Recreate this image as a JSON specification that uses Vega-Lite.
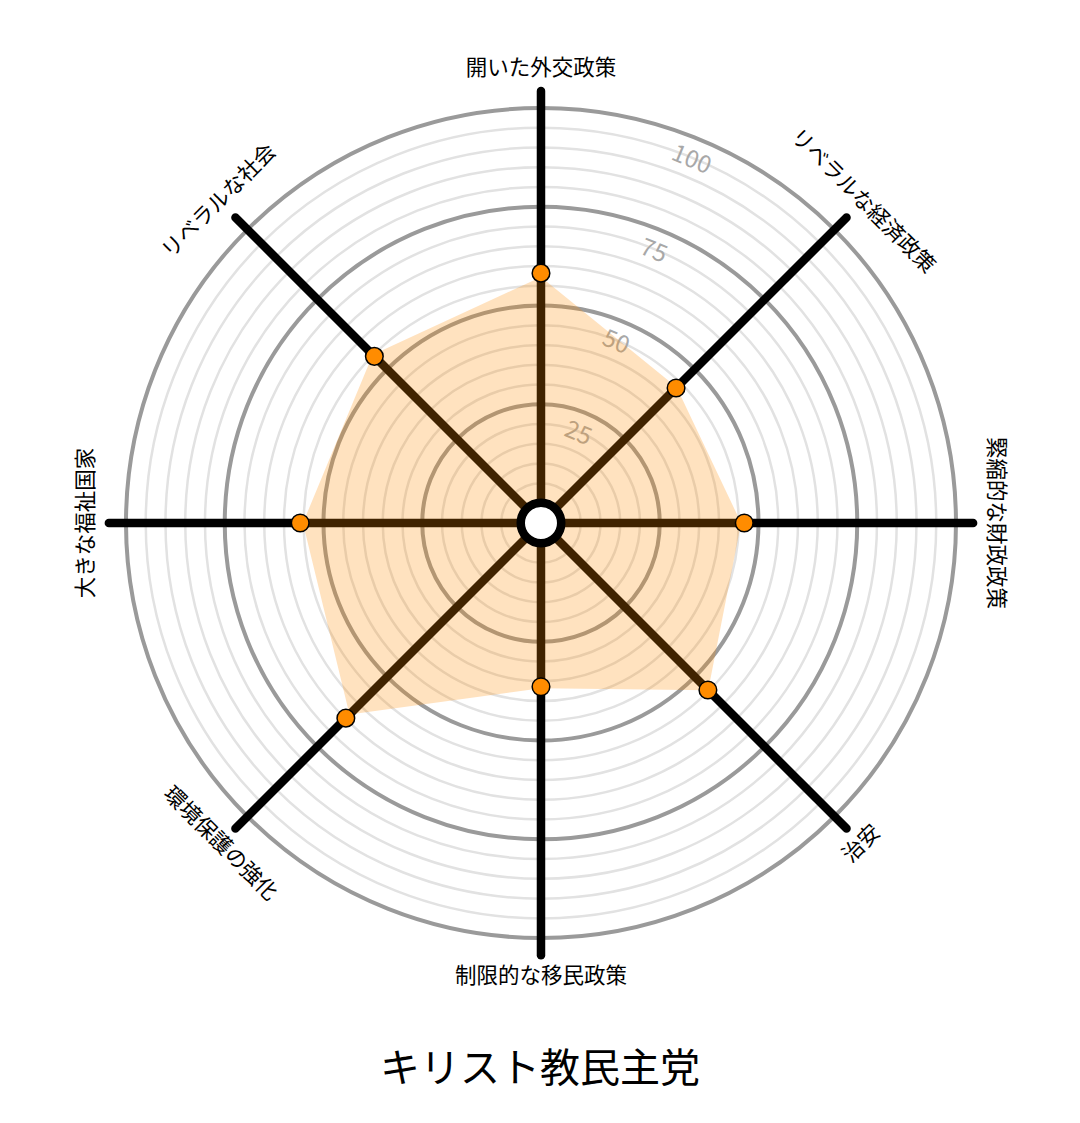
{
  "$schema": "https://vega.github.io/schema/vega-lite/v6.json",
  "description": "Radar chart of one party's policy positions on eight dimensions.",
  "width": 1080,
  "height": 1010,
  "autosize": {"type": "none"},
  "padding": {"top": 0, "left": 0, "right": 0, "bottom": 113},
  "background": "white",
  "config": {
    "view": {"stroke": null},
    "font": "Noto Sans CJK JP"
  },
  "title": {
    "text": "キリスト教民主党",
    "orient": "bottom",
    "fontSize": 40,
    "fontWeight": "normal",
    "color": "black",
    "font": "Noto Sans CJK JP",
    "offset": 40
  },
  "data": {
    "values": [
      {"kind": "point", "dim": "開いた外交政策", "order": 0, "value": 58.2},
      {"kind": "point", "dim": "リベラルな経済政策", "order": 1, "value": 43.3},
      {"kind": "point", "dim": "緊縮的な財政政策", "order": 2, "value": 46.4},
      {"kind": "point", "dim": "治安", "order": 3, "value": 54.7},
      {"kind": "point", "dim": "制限的な移民政策", "order": 4, "value": 36.4},
      {"kind": "point", "dim": "環境保護の強化", "order": 5, "value": 64.8},
      {"kind": "point", "dim": "大きな福祉国家", "order": 6, "value": 55.9},
      {"kind": "point", "dim": "リベラルな社会", "order": 7, "value": 54.6},
      {"kind": "shape", "order": 0, "value": 57.2},
      {"kind": "shape", "order": 1, "value": 43.5},
      {"kind": "shape", "order": 2, "value": 45.6},
      {"kind": "shape", "order": 3, "value": 54.8},
      {"kind": "shape", "order": 4, "value": 36.8},
      {"kind": "shape", "order": 5, "value": 63.5},
      {"kind": "shape", "order": 6, "value": 55.2},
      {"kind": "shape", "order": 7, "value": 55.2},
      {"kind": "minor", "value": 5}, {"kind": "minor", "value": 10},
      {"kind": "minor", "value": 15}, {"kind": "minor", "value": 20},
      {"kind": "minor", "value": 30}, {"kind": "minor", "value": 35},
      {"kind": "minor", "value": 40}, {"kind": "minor", "value": 45},
      {"kind": "minor", "value": 55}, {"kind": "minor", "value": 60},
      {"kind": "minor", "value": 65}, {"kind": "minor", "value": 70},
      {"kind": "minor", "value": 80}, {"kind": "minor", "value": 85},
      {"kind": "minor", "value": 90}, {"kind": "minor", "value": 95},
      {"kind": "major", "value": 25}, {"kind": "major", "value": 50},
      {"kind": "major", "value": 75}, {"kind": "major", "value": 100},
      {"kind": "centre", "value": 0}
    ]
  },
  "transform": [
    {"calculate": "datum.value + 5.063", "as": "u"},
    {"calculate": "datum.order * PI / 4", "as": "a"},
    {"calculate": "0", "as": "zero"}
  ],
  "layer": [
    {
      "transform": [{"filter": "datum.kind === 'minor'"}],
      "mark": {"type": "point", "shape": "circle", "filled": false, "color": "#e2e2e2", "opacity": 1, "strokeWidth": 2.5},
      "encoding": {
        "x": {"field": "zero", "type": "quantitative", "scale": {"domain": [-136.96, 136.46], "nice": false, "zero": false}, "axis": null},
        "y": {"field": "zero", "type": "quantitative", "scale": {"domain": [-123.29, 132.41], "nice": false, "zero": false}, "axis": null},
        "size": {"field": "u", "type": "quantitative", "legend": null, "scale": {"type": "pow", "exponent": 2, "domain": [0, 105.063], "range": [0, 688900]}}
      }
    },
    {
      "transform": [{"filter": "datum.kind === 'major'"}],
      "mark": {"type": "point", "shape": "circle", "filled": false, "color": "#9a9a9a", "opacity": 1, "strokeWidth": 4},
      "encoding": {
        "x": {"field": "zero", "type": "quantitative"},
        "y": {"field": "zero", "type": "quantitative"},
        "size": {"field": "u", "type": "quantitative", "legend": null}
      }
    },
    {
      "transform": [
        {"filter": "datum.kind === 'major'"},
        {"calculate": "(datum.value - 0.6) * sin(PI / 8)", "as": "tx"},
        {"calculate": "(datum.value - 0.6) * cos(PI / 8)", "as": "ty"}
      ],
      "mark": {"type": "text", "angle": 22.5, "fontSize": 24, "color": "#a8a8a8", "align": "center", "baseline": "middle"},
      "encoding": {
        "x": {"field": "tx", "type": "quantitative"},
        "y": {"field": "ty", "type": "quantitative"},
        "text": {"field": "value", "type": "quantitative"}
      }
    },
    {
      "transform": [
        {"filter": "datum.kind === 'point'"},
        {"calculate": "109.4 * sin(datum.a)", "as": "ex"},
        {"calculate": "109.4 * cos(datum.a)", "as": "ey"}
      ],
      "mark": {"type": "rule", "color": "black", "strokeWidth": 8.5, "strokeCap": "round"},
      "encoding": {
        "x": {"field": "zero", "type": "quantitative"},
        "y": {"field": "zero", "type": "quantitative"},
        "x2": {"field": "ex"},
        "y2": {"field": "ey"}
      }
    },
    {
      "transform": [
        {"filter": "datum.kind === 'shape'"},
        {"calculate": "datum.u * sin(datum.a)", "as": "px"},
        {"calculate": "datum.u * cos(datum.a)", "as": "py"}
      ],
      "mark": {"type": "line", "interpolate": "linear-closed", "filled": true, "color": "#ff8c00", "fillOpacity": 0.25, "strokeWidth": 0},
      "encoding": {
        "x": {"field": "px", "type": "quantitative"},
        "y": {"field": "py", "type": "quantitative"},
        "order": {"field": "order", "type": "quantitative"}
      }
    },
    {
      "transform": [
        {"filter": "datum.kind === 'point'"},
        {"calculate": "datum.u * sin(datum.a)", "as": "px"},
        {"calculate": "datum.u * cos(datum.a)", "as": "py"}
      ],
      "mark": {"type": "point", "shape": "circle", "filled": true, "color": "#ff8c00", "opacity": 1, "stroke": "black", "strokeWidth": 1.5, "size": 310},
      "encoding": {
        "x": {"field": "px", "type": "quantitative"},
        "y": {"field": "py", "type": "quantitative"}
      }
    },
    {
      "transform": [{"filter": "datum.kind === 'centre'"}],
      "mark": {"type": "point", "shape": "circle", "filled": true, "fill": "white", "opacity": 1, "stroke": "black", "strokeWidth": 8.5, "size": 1640},
      "encoding": {
        "x": {"field": "zero", "type": "quantitative"},
        "y": {"field": "zero", "type": "quantitative"}
      }
    },
    {
      "transform": [
        {"filter": "datum.kind === 'point'"},
        {"calculate": "115 * sin(datum.a)", "as": "lx"},
        {"calculate": "115 * cos(datum.a)", "as": "ly"},
        {"calculate": "datum.order > 2 && datum.order < 6 ? datum.order * 45 - 180 : (datum.order > 5 ? datum.order * 45 - 360 : datum.order * 45)", "as": "la"}
      ],
      "mark": {"type": "text", "fontSize": 21.5, "color": "black", "align": "center", "baseline": "middle"},
      "encoding": {
        "x": {"field": "lx", "type": "quantitative"},
        "y": {"field": "ly", "type": "quantitative"},
        "text": {"field": "dim", "type": "nominal"},
        "angle": {"field": "la", "type": "quantitative", "scale": {"domain": [-90, 90], "range": [-90, 90]}}
      }
    }
  ]
}
